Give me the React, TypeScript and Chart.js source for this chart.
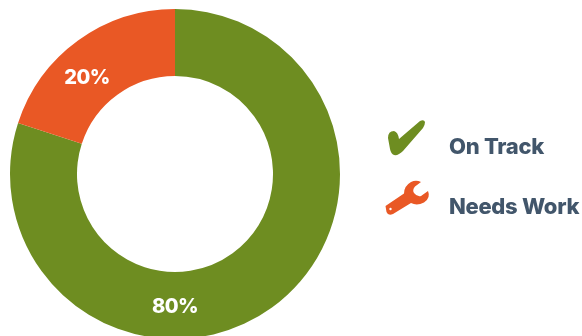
import React, { useEffect, useRef } from "react";
import { Chart, registerables } from "chart.js";

Chart.register(...registerables);

const categories = ["On Track", "Needs Work"];
const shares = [80, 20];
const sliceColors = ["#6E8D21", "#E95825"];

const FONT = "Inter, Roboto, sans-serif";
const LEGEND_TEXT = "#42566B";
// Clockwise degrees from twelve o'clock at which each percentage sits.
const labelAngles = [180, 318];

const checkPath =
  "M388 138 Q388 131 394 131 Q398 132 399 139 L420 121 Q424 119 425 122 Q425 125 423 128 L403 151 Q398 156 394 155 Q391 154 390 149 Z";
const wrenchPath =
  "M385.5 206 L404 193.5 Q404 186 411 182 Q416 179.5 421 182 L415 186.5 Q412 190 414 193 Q417 197 421 196 L428 191 Q431 198 424 202.5 Q417 206 411 203 L393 214 Q388 216 386.5 212 Z";

const overlay = {
  id: "overlay",
  afterDraw(chart: Chart) {
    const { ctx } = chart;
    const arcs = chart.getDatasetMeta(0).data as any[];
    ctx.save();
    ctx.textAlign = "center";
    ctx.textBaseline = "middle";
    ctx.fillStyle = "#ffffff";
    ctx.font = `800 20px ${FONT}`;
    (ctx as any).letterSpacing = "-0.6px";
    arcs.forEach((arc, i) => {
      const r = (arc.outerRadius + arc.innerRadius) / 2;
      const a = (labelAngles[i] * Math.PI) / 180;
      ctx.fillText(`${shares[i]}%`, arc.x + r * Math.sin(a), arc.y - r * Math.cos(a) + 1.5);
    });
    ctx.textAlign = "left";
    ctx.fillStyle = LEGEND_TEXT;
    ctx.font = `800 22px ${FONT}`;
    (ctx as any).letterSpacing = "-0.3px";
    ctx.fillText(categories[0], 449, 147);
    ctx.fillText(categories[1], 449, 207);
    (ctx as any).letterSpacing = "0px";
    ctx.fillStyle = sliceColors[0];
    ctx.fill(new Path2D(checkPath));
    ctx.fillStyle = sliceColors[1];
    ctx.fill(new Path2D(wrenchPath));
    // Hanging hole at the end of the wrench handle
    ctx.fillStyle = "#ffffff";
    ctx.beginPath();
    ctx.arc(390.5, 209, 1.2, 0, Math.PI * 2);
    ctx.fill();
    ctx.restore();
  },
};

export default function App() {
  const ref = useRef<HTMLCanvasElement>(null);
  useEffect(() => {
    const chart = new Chart(ref.current!, {
      type: "doughnut",
      data: {
        labels: categories,
        datasets: [{ data: shares, backgroundColor: sliceColors, borderWidth: 0 }],
      },
      options: {
        responsive: false,
        animation: false,
        radius: 165,
        cutout: "59.4%",
        layout: { padding: { right: 232 } },
        plugins: { legend: { display: false }, tooltip: { enabled: false } },
      },
      plugins: [overlay],
    });
    return () => chart.destroy();
  }, []);
  return (
    <div style={{ position: "fixed", left: 0, top: 0, width: 582, height: 336, overflow: "hidden", background: "#fff" }}>
      <canvas ref={ref} width={582} height={348} style={{ display: "block" }} />
    </div>
  );
}
